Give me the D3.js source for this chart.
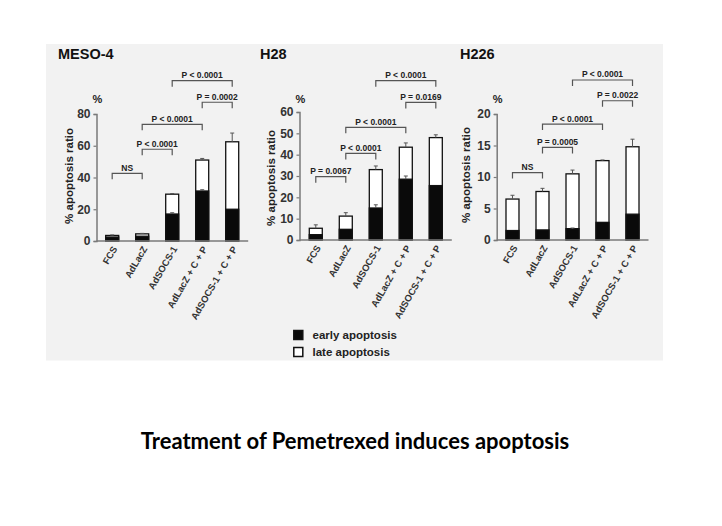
<!DOCTYPE html>
<html><head><meta charset="utf-8">
<script src="https://cdn.jsdelivr.net/npm/d3@7"></script>
<style>body{margin:0;background:#fff}svg{display:block}</style>
</head><body>
<svg id="c" width="722" height="526"></svg>
<script>
// ---------- data ----------
const categories = ["FCS", "AdLacZ", "AdSOCS-1", "AdLacZ + C + P", "AdSOCS-1 + C + P"];
const panelNames = ["MESO-4", "H28", "H226"];

const meso4Early = [2.5, 3, 17, 31.5, 20];
const meso4Total = [3.5, 4.5, 29.5, 51, 62.5];
const meso4TotalErr = [0.3, 0.3, 0.4, 1, 5.5];
const meso4EarlyErr = [0, 0, 0.8, 0.8, 0];
const meso4Ticks = [0, 20, 40, 60, 80];

const h28Early = [2.5, 5, 15, 28.5, 25.5];
const h28Total = [5.5, 11.2, 33, 43.5, 48];
const h28TotalErr = [1.6, 1.6, 1.7, 2, 1.3];
const h28EarlyErr = [0, 0, 1.5, 1.5, 0];
const h28Ticks = [0, 10, 20, 30, 40, 50, 60];

const h226Early = [1.5, 1.6, 1.8, 2.8, 4.1];
const h226Total = [6.5, 7.7, 10.5, 12.6, 14.8];
const h226TotalErr = [0.6, 0.5, 0.6, 0.1, 1.2];
const h226EarlyErr = [0, 0, 0.1, 0, 0];
const h226Ticks = [0, 5, 10, 15, 20];

// significance brackets: [from, to, height (data units), label]
const meso4Brackets = [[0, 1, 42.6, "NS"], [1, 2, 57.8, "P < 0.0001"], [1, 3, 73.5, "P < 0.0001"], [3, 4, 87.4, "P = 0.0002"], [2, 4, 101, "P < 0.0001"]];
const h28Brackets = [[0, 1, 29.7, "P = 0.0067"], [1, 2, 40.6, "P < 0.0001"], [1, 3, 52.8, "P < 0.0001"], [3, 4, 64.5, "P = 0.0169"], [2, 4, 74.7, "P < 0.0001"]];
const h226Brackets = [[0, 1, 10.7, "NS"], [1, 2, 14.7, "P = 0.0005"], [1, 3, 18.4, "P < 0.0001"], [3, 4, 22.1, "P = 0.0022"], [2, 4, 25.4, "P < 0.0001"]];

const legendLabels = ["early apoptosis", "late apoptosis"];
const yAxisTitle = "% apoptosis ratio";
const caption = "Treatment of Pemetrexed induces apoptosis";

// ---------- layout ----------
const panels = [
  {name: panelNames[0], early: meso4Early, total: meso4Total, terr: meso4TotalErr, eerr: meso4EarlyErr, ticks: meso4Ticks, brackets: meso4Brackets,
   ax: 96.5, x0: 97.2, y0: 241, yTop: 114, titleX: 58, ylabX: 69, ylabY: 176},
  {name: panelNames[1], early: h28Early, total: h28Total, terr: h28TotalErr, eerr: h28EarlyErr, ticks: h28Ticks, brackets: h28Brackets,
   ax: 299.5, x0: 300.8, y0: 240, yTop: 112, titleX: 260, ylabX: 270.5, ylabY: 178},
  {name: panelNames[2], early: h226Early, total: h226Total, terr: h226TotalErr, eerr: h226EarlyErr, ticks: h226Ticks, brackets: h226Brackets,
   ax: 496.7, x0: 497.5, y0: 240, yTop: 114, titleX: 460, ylabX: 465.5, ylabY: 175}
];

const svg = d3.select("#c");
const FONT = "'Liberation Sans', Arial, sans-serif";
svg.append("rect").attr("x", 46).attr("y", 44).attr("width", 617).attr("height", 316.5).attr("fill", "#f2f2f2");

const axisCol = "#7a7a7a";

panels.forEach(p => {
  const g = svg.append("g");
  const y = d3.scaleLinear().domain([0, d3.max(p.ticks)]).range([p.y0, p.yTop]);
  const x = d3.scaleBand().domain(categories).range([p.x0, p.x0 + 150]).paddingInner(0.567).paddingOuter(0.283);

  // title
  g.append("text").attr("x", p.titleX).attr("y", 58.5).text(p.name)
    .attr("font-family", FONT).attr("font-weight", "bold").attr("font-size", 14.5).attr("fill", "#111");
  // %
  g.append("text").attr("x", p.ax + 1).attr("y", 103).attr("text-anchor", "middle").text("%")
    .attr("font-family", FONT).attr("font-weight", "bold").attr("font-size", 11).attr("fill", "#222");
  // y title
  g.append("text").attr("transform", `translate(${p.ylabX},${p.ylabY}) rotate(-90)`).attr("dy", "0.35em")
    .attr("text-anchor", "middle").text(yAxisTitle)
    .attr("font-family", FONT).attr("font-weight", "bold").attr("font-size", 11.5).attr("fill", "#222");

  // y axis
  const ya = g.append("g").attr("transform", `translate(${p.ax},0)`)
    .call(d3.axisLeft(y).tickValues(p.ticks).tickSize(3).tickPadding(3).tickFormat(d3.format("d")));
  ya.select(".domain").attr("stroke", axisCol).attr("stroke-width", 1.5);
  ya.selectAll(".tick line").attr("stroke", axisCol).attr("stroke-width", 1.2);
  ya.selectAll(".tick text").attr("font-family", FONT).attr("font-weight", "bold").attr("font-size", 12).attr("fill", "#333");

  // bars: total (white) then early (black)
  g.selectAll(".tot").data(categories).join("rect")
    .attr("x", d => x(d)).attr("width", x.bandwidth())
    .attr("y", (d, i) => y(p.total[i])).attr("height", (d, i) => y(0) - y(p.total[i]))
    .attr("fill", "#fff").attr("stroke", "#111").attr("stroke-width", 1.3);
  g.selectAll(".ear").data(categories).join("rect")
    .attr("x", d => x(d)).attr("width", x.bandwidth())
    .attr("y", (d, i) => y(p.early[i])).attr("height", (d, i) => y(0) - y(p.early[i]))
    .attr("fill", "#0a0a0a").attr("stroke", "#111").attr("stroke-width", 1.3);

  // error bars
  const errs = [];
  categories.forEach((c, i) => {
    if (p.terr[i] > 0) errs.push({c, v: p.total[i], e: p.terr[i]});
    if (p.eerr[i] > 0) errs.push({c, v: p.early[i], e: p.eerr[i]});
  });
  errs.forEach(d => {
    const cx = x(d.c) + x.bandwidth() / 2;
    g.append("line").attr("x1", cx).attr("x2", cx).attr("y1", y(d.v)).attr("y2", y(d.v + d.e)).attr("stroke", "#555").attr("stroke-width", 1);
    g.append("line").attr("x1", cx - 2).attr("x2", cx + 2).attr("y1", y(d.v + d.e)).attr("y2", y(d.v + d.e)).attr("stroke", "#555").attr("stroke-width", 1);
  });

  // x axis
  const xa = g.append("g").attr("transform", `translate(0,${p.y0})`)
    .call(d3.axisBottom(x).tickSize(0).tickSizeOuter(0));
  xa.select(".domain").attr("stroke", axisCol).attr("stroke-width", 1.5)
    .attr("d", `M${p.ax},0H${p.x0 + 151}`);
  xa.selectAll(".tick text")
    .attr("transform", "translate(2.5,6) rotate(-60)")
    .attr("y", 0).attr("x", 0).attr("dy", "0.35em").attr("text-anchor", "end")
    .attr("font-family", FONT).attr("font-weight", "bold").attr("font-size", 9.5).attr("fill", "#333");

  // brackets
  p.brackets.forEach(b => {
    const xa1 = x(categories[b[0]]) + x.bandwidth() / 2;
    const xa2 = x(categories[b[1]]) + x.bandwidth() / 2;
    const yy = y(b[2]);
    g.append("path").attr("d", `M${xa1},${yy + 6}V${yy}H${xa2}V${yy + 6}`)
      .attr("fill", "none").attr("stroke", "#555").attr("stroke-width", 1.2);
    g.append("text").attr("x", (xa1 + xa2) / 2).attr("y", yy - 2.5).attr("text-anchor", "middle").text(b[3])
      .attr("font-family", FONT).attr("font-weight", "bold").attr("font-size", 8.5).attr("fill", "#222");
  });
});

// legend
const lg = svg.append("g");
legendLabels.forEach((t, i) => {
  lg.append("rect").attr("x", 293.8).attr("y", 330.5 + i * 17).attr("width", 9).attr("height", 9)
    .attr("fill", i === 0 ? "#0a0a0a" : "#fff").attr("stroke", "#111").attr("stroke-width", 1.5);
  lg.append("text").attr("x", 312.5).attr("y", 339 + i * 17).text(t)
    .attr("font-family", FONT).attr("font-weight", "bold").attr("font-size", 11.5).attr("fill", "#222");
});

// caption
svg.append("text").attr("x", 355).attr("y", 449).attr("text-anchor", "middle").text(caption)
  .attr("font-family", "Lato, 'Open Sans', sans-serif").attr("font-weight", "bold").attr("font-size", 22).attr("fill", "#000");
</script>
</body></html>
